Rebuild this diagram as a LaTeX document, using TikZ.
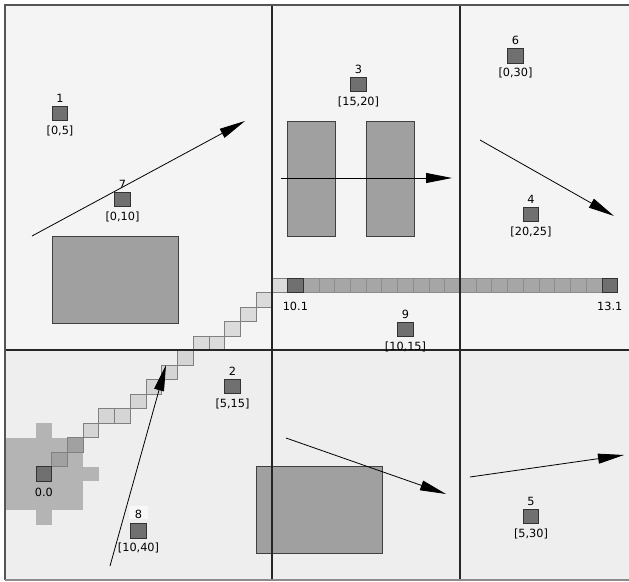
\documentclass[tikz,border=0pt]{standalone}
\usepackage{fontspec}
\setmainfont{DejaVu Sans}
\usetikzlibrary{arrows.meta}
\definecolor{bgtop}{HTML}{F4F4F4}
\definecolor{bgbot}{HTML}{EEEEEE}
\definecolor{blobgray}{HTML}{B4B4B4}
\definecolor{rectgray}{HTML}{A0A0A0}
\definecolor{darkcell}{HTML}{707070}
\definecolor{midcell}{HTML}{A6A6A6}
\definecolor{framegray}{HTML}{555555}
\definecolor{labelbg}{HTML}{F8F8F8}
\begin{document}
\begin{tikzpicture}[x=1pt,y=-1pt,
  lab/.style={font=\fontsize{11.3}{13}\selectfont, inner sep=0pt},
  item/.style={draw=black!80, fill=darkcell, line width=0.8pt,
    minimum width=15.7pt, minimum height=14.5pt, inner sep=0pt},
  block/.style={draw=black!75, fill=rectgray, line width=0.8pt},
  divider/.style={draw=black!85, line width=1.2pt},
  trail/.style={draw=black!50, fill=black, fill opacity=0.1, line width=0.8pt},
  track/.style={draw=black!45, fill=midcell, line width=0.8pt},
  move/.style={draw=black, line width=0.8pt, -{Triangle[length=26pt,width=10pt]}},
]
\useasboundingbox (0,0) rectangle (629,581);

% backgrounds of the two bands
\fill[bgtop] (5,5) rectangle (629,350);
\fill[bgbot] (5,350) rectangle (629,580);

% cell grid geometry
\def\cw{15.72}\def\ch{14.5}\def\ox{36}\def\oy{466.5}

% shaded region around the origin cell
\fill[blobgray] (5,437.5) rectangle (83.2,510);
\fill[blobgray] (36,423) rectangle (51.72,437.5);
\fill[blobgray] (83.2,466.5) rectangle (98.9,481);
\fill[blobgray] (36,510) rectangle (51.72,524.5);

% obstacles
\draw[block] (52,236) rectangle (178,323);
\draw[block] (287,121) rectangle (335,236);
\draw[block] (366,121) rectangle (414,236);
\draw[block] (256,466) rectangle (382,553);

% stair-step trail of cells
\foreach \c/\r in {1/1,2/2,3/3,4/4,5/4,6/5,7/6,8/7,9/8,10/9,11/9,12/10,13/11,14/12,15/13}
  \draw[trail] ({\ox+\c*\cw},{\oy-\r*\ch}) rectangle ++(\cw,\ch);
% straight track of cells
\foreach \c in {17,...,35}
  \draw[track] ({\ox+\c*\cw},{\oy-13*\ch}) rectangle ++(\cw,\ch);

% dividers
\draw[divider] (272,5) -- (272,580);
\draw[divider] (460,5) -- (460,580);
\draw[divider] (5,350) -- (629,350);

% frame
\draw[framegray, line width=2.2pt] (5,580) -- (5,5) -- (629,5);
\draw[black!45, line width=1.5pt] (5,580) -- (629,580);

% marked cells
\node[item] (c00) at ({\ox+0.5*\cw},{\oy+0.5*\ch}) {};
\node[item] (c101) at ({\ox+16.5*\cw},{\oy-12.5*\ch}) {};
\node[item] (c131) at ({\ox+36.5*\cw},{\oy-12.5*\ch}) {};
\node[lab, anchor=north, yshift=-7pt] at (c00.south) {0.0};
\node[lab, anchor=north, yshift=-9pt] at (c101.south) {10.1};
\node[lab, anchor=north, yshift=-9pt] at (c131.south) {13.1};

% numbered items
\foreach \n/\x/\y/\t in {1/60/113.5/{[0,5]}, 7/122.5/199.5/{[0,10]},
    3/358.5/84.5/{[15,20]}, 6/515.5/56/{[0,30]}, 4/531/214.5/{[20,25]},
    9/405.5/329.5/{[10,15]}, 2/232.5/386.5/{[5,15]}, 5/531/516.5/{[5,30]}} {
  \node[item] (i\n) at (\x,\y) {};
  \node[lab, anchor=base, yshift=3.5pt] at (i\n.north) {\n};
  \node[lab, anchor=north, yshift=-4.5pt] at (i\n.south) {\t};
}
\node[item] (i8) at (138.5,531) {};
\node[lab, anchor=base, yshift=5pt, fill=labelbg, inner xsep=5.5pt,
  inner ysep=1pt, text height=11pt, text depth=0pt] at (i8.north) {8};
\node[lab, anchor=north, yshift=-4.5pt] at (i8.south) {[10,40]};

% motion vectors
\coordinate (a1s) at (32,236);  \coordinate (a1e) at (245,121);
\coordinate (a2s) at (281,178); \coordinate (a2e) at (452,178);
\coordinate (a3s) at (480,140); \coordinate (a3e) at (614,216);
\coordinate (a4s) at (286,438); \coordinate (a4e) at (446,494);
\coordinate (a5s) at (470,477); \coordinate (a5e) at (624,455);
\coordinate (a6s) at (110,566); \coordinate (a6e) at (166,365);
\draw[move] (a1s) -- (a1e);
\draw[move] (a2s) -- (a2e);
\draw[move] (a3s) -- (a3e);
\draw[move] (a4s) -- (a4e);
\draw[move] (a5s) -- (a5e);
\draw[move] (a6s) -- (a6e);
\end{tikzpicture}
\end{document}
